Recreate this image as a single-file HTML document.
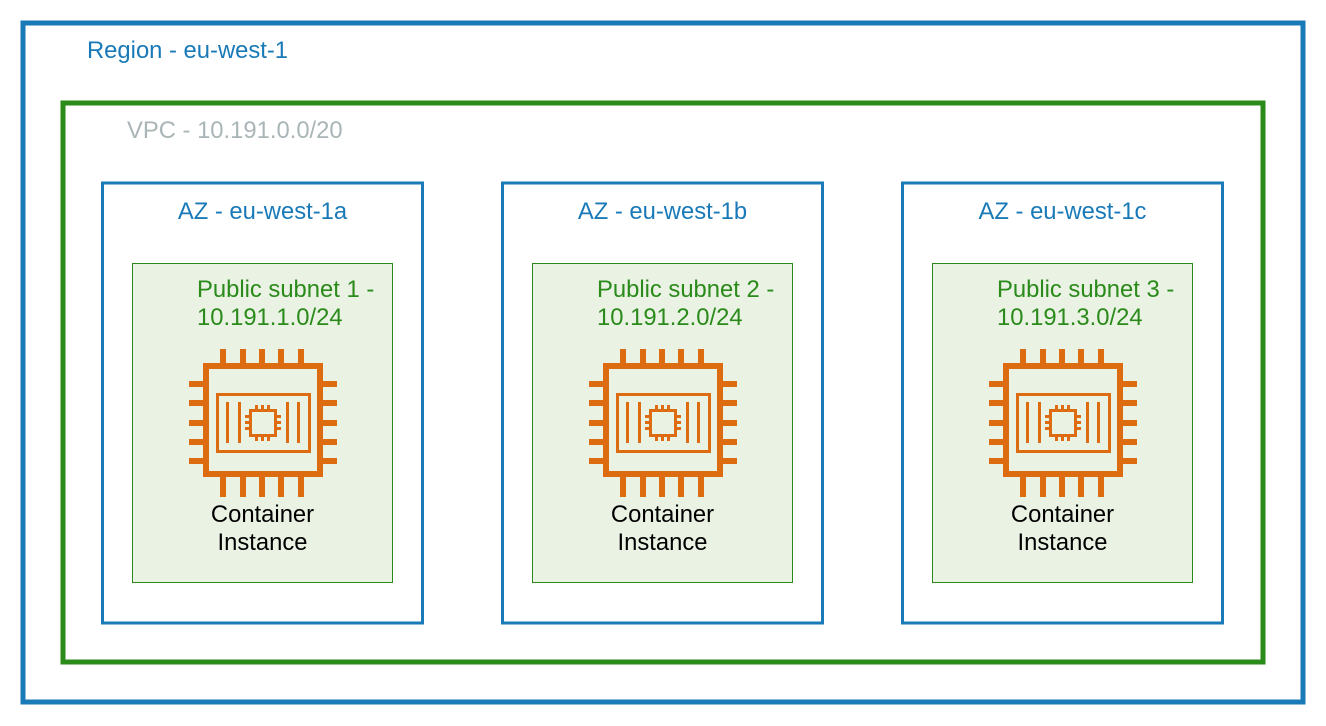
<!DOCTYPE html>
<html><head><meta charset="utf-8"><style>
html,body{margin:0;padding:0;background:#fff;width:1326px;height:726px;overflow:hidden}
text{font-family:"Liberation Sans",Arial,sans-serif;font-size:23.8px}
</style></head><body>
<svg width="1326" height="726" viewBox="0 0 1326 726" xmlns="http://www.w3.org/2000/svg">
<defs>
<g id="chip" fill="#dd6b10">
  <rect x="220" y="349" width="6" height="15"/><rect x="240" y="349" width="6" height="15"/><rect x="259" y="349" width="6" height="15"/><rect x="278" y="349" width="6" height="15"/><rect x="298" y="349" width="6" height="15"/>
  <rect x="220" y="476" width="6" height="21"/><rect x="240" y="476" width="6" height="21"/><rect x="259" y="476" width="6" height="21"/><rect x="278" y="476" width="6" height="21"/><rect x="298" y="476" width="6" height="21"/>
  <rect x="189" y="381" width="15" height="6"/><rect x="189" y="400" width="15" height="6"/><rect x="189" y="420" width="15" height="6"/><rect x="189" y="439" width="15" height="6"/><rect x="189" y="458" width="15" height="6"/>
  <rect x="322" y="381" width="15" height="6"/><rect x="322" y="400" width="15" height="6"/><rect x="322" y="420" width="15" height="6"/><rect x="322" y="439" width="15" height="6"/><rect x="322" y="458" width="15" height="6"/>
  <rect x="206" y="366" width="114" height="108" fill="none" stroke="#dd6b10" stroke-width="6"/>
  <rect x="217.5" y="394.5" width="92" height="57" fill="none" stroke="#dd6b10" stroke-width="3"/>
  <rect x="226" y="402" width="3" height="41"/><rect x="238" y="402" width="3" height="41"/><rect x="286" y="402" width="3" height="41"/><rect x="297" y="402" width="3" height="41"/>
  <rect x="250.5" y="410.5" width="25" height="25" fill="none" stroke="#dd6b10" stroke-width="3"/>
  <rect x="255" y="405" width="3" height="5"/><rect x="261" y="405" width="3" height="5"/><rect x="267" y="405" width="3" height="5"/>
  <rect x="255" y="436" width="3" height="5"/><rect x="261" y="436" width="3" height="5"/><rect x="267" y="436" width="3" height="5"/>
  <rect x="245" y="415" width="5" height="3"/><rect x="245" y="421" width="5" height="3"/><rect x="245" y="427" width="5" height="3"/>
  <rect x="276" y="415" width="5" height="3"/><rect x="276" y="421" width="5" height="3"/><rect x="276" y="427" width="5" height="3"/>
</g>
</defs>
<rect x="23" y="23" width="1280" height="679" fill="none" stroke="#1a7ab8" stroke-width="5"/>
<text x="87" y="58" fill="#1a7ab8">Region - eu-west-1</text>
<rect x="63" y="103" width="1200" height="559" fill="none" stroke="#2a8a1a" stroke-width="5"/>
<text x="127" y="138" fill="#aab5b7">VPC - 10.191.0.0/20</text>

<g>
<rect x="102.5" y="183" width="320" height="440" fill="none" stroke="#1a7ab8" stroke-width="3"/>
<text x="262.5" y="219" fill="#1a7ab8" text-anchor="middle">AZ - eu-west-1a</text>
<rect x="132.5" y="263.5" width="260" height="319" fill="#e9f2e3" stroke="#2a8a1a" stroke-width="1"/>
<text x="197" y="297" fill="#2a8a1a">Public subnet 1 -</text>
<text x="197" y="325" fill="#2a8a1a">10.191.1.0/24</text>
<use href="#chip"/>
<text x="262.5" y="522" fill="#000" text-anchor="middle">Container</text>
<text x="262.5" y="550" fill="#000" text-anchor="middle">Instance</text>
</g>
<g transform="translate(400,0)">
<rect x="102.5" y="183" width="320" height="440" fill="none" stroke="#1a7ab8" stroke-width="3"/>
<text x="262.5" y="219" fill="#1a7ab8" text-anchor="middle">AZ - eu-west-1b</text>
<rect x="132.5" y="263.5" width="260" height="319" fill="#e9f2e3" stroke="#2a8a1a" stroke-width="1"/>
<text x="197" y="297" fill="#2a8a1a">Public subnet 2 -</text>
<text x="197" y="325" fill="#2a8a1a">10.191.2.0/24</text>
<use href="#chip"/>
<text x="262.5" y="522" fill="#000" text-anchor="middle">Container</text>
<text x="262.5" y="550" fill="#000" text-anchor="middle">Instance</text>
</g>
<g transform="translate(800,0)">
<rect x="102.5" y="183" width="320" height="440" fill="none" stroke="#1a7ab8" stroke-width="3"/>
<text x="262.5" y="219" fill="#1a7ab8" text-anchor="middle">AZ - eu-west-1c</text>
<rect x="132.5" y="263.5" width="260" height="319" fill="#e9f2e3" stroke="#2a8a1a" stroke-width="1"/>
<text x="197" y="297" fill="#2a8a1a">Public subnet 3 -</text>
<text x="197" y="325" fill="#2a8a1a">10.191.3.0/24</text>
<use href="#chip"/>
<text x="262.5" y="522" fill="#000" text-anchor="middle">Container</text>
<text x="262.5" y="550" fill="#000" text-anchor="middle">Instance</text>
</g>
</svg>
</body></html>
